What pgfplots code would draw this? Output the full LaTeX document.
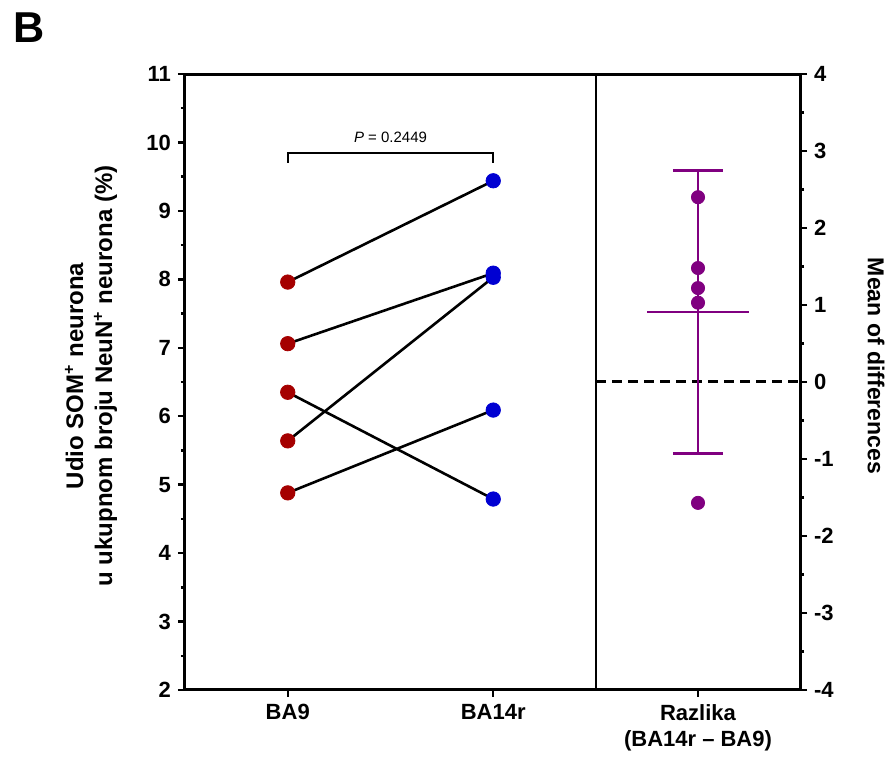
\documentclass[border=0pt]{standalone}
\usepackage{fontspec}
\setmainfont{Liberation Sans}
\usepackage{pgfplots}
\pgfplotsset{compat=1.18}
\definecolor{cred}{RGB}{165,0,0}
\definecolor{cblue}{RGB}{0,0,210}
\definecolor{cpurp}{RGB}{128,0,128}

\begin{document}
\begin{tikzpicture}
\pgfplotsset{common/.style={scale only axis, height=308pt, clip=false,
  axis line style={draw=none}, tick align=outside,
  major tick length=3.5pt, minor tick length=2pt,
  tick style={black, line width=1.2pt},
  tick label style={font=\fontsize{11}{13}\selectfont\bfseries},
  /pgf/number format/assume math mode=true, minor y tick num=1}}

\begin{axis}[common, at={(0pt,0pt)}, anchor=south west, width=205.5pt,
  xmin=-0.5, xmax=1.5, ymin=2, ymax=11, ytick={2,...,11},
  xtick={0,1}, xticklabels={BA9,BA14r}, xtick pos=bottom, ytick pos=left]
\addplot[black, line width=1.3pt] coordinates {(0,7.96) (1,9.44)};
\addplot[black, line width=1.3pt] coordinates {(0,7.06) (1,8.09)};
\addplot[black, line width=1.3pt] coordinates {(0,5.64) (1,8.03)};
\addplot[black, line width=1.3pt] coordinates {(0,6.35) (1,4.79)};
\addplot[black, line width=1.3pt] coordinates {(0,4.88) (1,6.09)};
\addplot[only marks, mark=*, mark size=3.6pt, cred, mark options={draw=cred, fill=cred}] coordinates {(0,7.96) (0,7.06) (0,6.35) (0,5.64) (0,4.88)};
\addplot[only marks, mark=*, mark size=3.6pt, cblue, mark options={draw=cblue, fill=cblue}] coordinates {(1,9.44) (1,8.09) (1,8.03) (1,6.09) (1,4.79)};
\draw[line width=1.2pt] (axis cs:0,9.70) -- (axis cs:0,9.85) -- (axis cs:1,9.85) -- (axis cs:1,9.70);
\node[font=\fontsize{7.5}{9}\selectfont] at (axis cs:0.5,10.07) {\textit{P} = 0.2449};
\draw[line width=1.5pt] (rel axis cs:1,1) -- (rel axis cs:0,1) -- (rel axis cs:0,0) -- (rel axis cs:1,0);
\draw[line width=0.8pt] (rel axis cs:1,0) -- (rel axis cs:1,1);
\end{axis}

\begin{axis}[common, at={(205.5pt,0pt)}, anchor=south west, width=102pt,
  xmin=-0.5, xmax=0.5, ymin=-4, ymax=4, ytick={-4,...,4},
  xtick={0}, xticklabels={{Razlika\\(BA14r – BA9)}}, xticklabel style={align=center},
  xtick pos=bottom, ytick pos=right, yticklabel pos=right]
\addplot[black, line width=1.5pt, dash pattern=on 5pt off 3pt] coordinates {(-0.5,0) (0.5,0)};
% 95% CI of the mean difference
\addplot[cpurp, line width=1.4pt] coordinates {(0,-0.93) (0,2.75)};
\addplot[cpurp, line width=1.4pt] coordinates {(-0.123,2.75) (0.123,2.75)};
\addplot[cpurp, line width=1.4pt] coordinates {(-0.123,-0.93) (0.123,-0.93)};
% mean
\addplot[cpurp, line width=1.4pt] coordinates {(-0.25,0.91) (0.25,0.91)};
\addplot[only marks, mark=*, mark size=3.3pt, cpurp, mark options={draw=cpurp, fill=cpurp}] coordinates {(0,2.40) (0,1.48) (0,1.22) (0,1.03) (0,-1.57)};
\draw[line width=1.5pt] (rel axis cs:0,1) -- (rel axis cs:1,1) -- (rel axis cs:1,0) -- (rel axis cs:0,0);
\end{axis}

\node[rotate=90, align=center, font=\fontsize{12}{14.5}\selectfont\bfseries] at (-47pt,157pt) {Udio SOM\textsuperscript{+} neurona\\u ukupnom broju NeuN\textsuperscript{+} neurona (\%)};
\node[rotate=-90, font=\fontsize{11.5}{14}\selectfont\bfseries] at (345.5pt,162pt) {Mean of differences};
\node[font=\fontsize{21.6}{24}\selectfont\bfseries] at (-78pt,331pt) {B};
\pgfresetboundingbox
\path (-92.5pt,-35pt) rectangle (352.5pt,345pt);
\end{tikzpicture}
\end{document}
